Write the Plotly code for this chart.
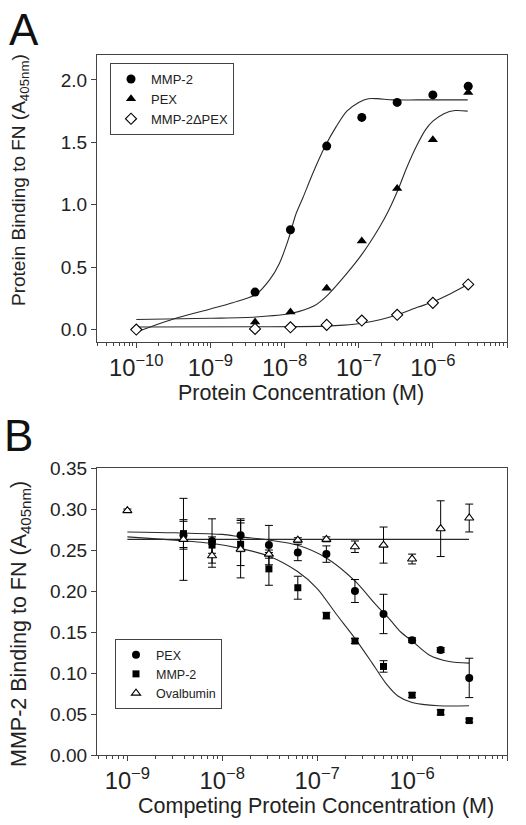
import plotly.graph_objects as go

W, H = 526, 825

# ---------------- Panel A data ----------------
conc_a = [1e-10, 4e-9, 1.2e-8, 3.7e-8, 1.1e-7, 3.3e-7, 1e-6, 3e-6]
mmp2_a = [None, 0.30, 0.80, 1.47, 1.70, 1.82, 1.88, 1.95]
pex_a = [None, 0.06, 0.14, 0.33, 0.71, 1.13, 1.52, 1.90]
dpex_a = [0.0, 0.005, 0.018, 0.037, 0.072, 0.118, 0.214, 0.361]

# fitted curves (log10 concentration, value)
fit_mmp2_a_logx = [-10.0, -9.5, -9.0, -8.7, -8.39, -8.2, -8.07, -7.95, -7.85, -7.75, -7.62, -7.46, -7.30, -7.16, -7.0, -6.87, -6.75, -6.54, -6.2, -5.53]
fit_mmp2_a_y = [-0.02, 0.085, 0.165, 0.215, 0.28, 0.40, 0.53, 0.72, 0.92, 1.06, 1.25, 1.46, 1.63, 1.75, 1.82, 1.85, 1.85, 1.84, 1.84, 1.84]
fit_pex_a_logx = [-10.0, -9.0, -8.39, -7.905, -7.6, -7.43, -7.16, -6.96, -6.72, -6.6, -6.47, -6.35, -6.22, -6.1, -6.0, -5.85, -5.7, -5.53]
fit_pex_a_y = [0.08, 0.09, 0.10, 0.13, 0.19, 0.27, 0.45, 0.60, 0.82, 0.95, 1.12, 1.30, 1.47, 1.60, 1.67, 1.73, 1.755, 1.75]
fit_dpex_a_logx = [-10.0, -8.4, -7.43, -7.2, -6.96, -6.7, -6.47, -6.2, -6.0, -5.75, -5.53]
fit_dpex_a_y = [0.02, 0.022, 0.027, 0.035, 0.05, 0.08, 0.12, 0.18, 0.22, 0.29, 0.36]

# ---------------- Panel B data ----------------
conc_b = [1e-9, 3.9e-9, 7.8e-9, 1.56e-8, 3.1e-8, 6.25e-8, 1.25e-7, 2.5e-7, 5e-7, 1e-6, 2e-6, 4e-6]
pex_b = [None, 0.268, 0.261, 0.268, 0.256, 0.247, 0.245, 0.200, 0.172, 0.140, 0.128, 0.094]
pex_b_err = [None, 0.017, 0.027, 0.020, 0.024, 0.010, 0.010, 0.014, 0.024, 0.003, 0.003, 0.024]
mmp2_b = [None, 0.270, 0.256, 0.257, 0.227, 0.204, 0.170, 0.139, 0.108, 0.073, 0.052, 0.042]
mmp2_b_err = [None, 0.017, 0.010, 0.026, 0.020, 0.014, 0.004, 0.003, 0.007, 0.003, 0.003, 0.002]
ova_b = [0.298, 0.263, 0.243, 0.251, 0.245, 0.262, 0.263, 0.254, 0.256, 0.239, 0.276, 0.289]
ova_b_err = [0.002, 0.050, 0.014, 0.035, 0.005, 0.003, 0.003, 0.007, 0.022, 0.006, 0.034, 0.017]

fit_pex_b_logx = [-9.0, -8.5, -8.0, -7.8, -7.5, -7.21, -6.9, -6.6, -6.38, -6.24, -6.12, -6.0, -5.82, -5.61, -5.4]
fit_pex_b_y = [0.272, 0.271, 0.269, 0.266, 0.262, 0.256, 0.240, 0.212, 0.183, 0.166, 0.150, 0.139, 0.122, 0.114, 0.112]
fit_mmp2_b_logx = [-9.0, -8.5, -8.1, -7.81, -7.52, -7.21, -7.0, -6.8, -6.6, -6.42, -6.28, -6.15, -6.0, -5.72, -5.4]
fit_mmp2_b_y = [0.266, 0.262, 0.258, 0.252, 0.243, 0.224, 0.203, 0.172, 0.142, 0.112, 0.088, 0.072, 0.064, 0.060, 0.060]
fit_ova_b_logx = [-9.0, -5.4]
fit_ova_b_y = [0.263, 0.263]

FONT = "Liberation Sans, Arial, sans-serif"
AX = "#444444"
LINE = "#2a2a2a"

fig = go.Figure()

def curve(logx, y, xa, ya):
    fig.add_trace(go.Scatter(x=[10 ** v for v in logx], y=y, mode="lines",
                             line=dict(color=LINE, width=1.1, shape="spline", smoothing=0.8),
                             showlegend=False, hoverinfo="skip", xaxis=xa, yaxis=ya))

# Panel A curves
curve(fit_mmp2_a_logx, fit_mmp2_a_y, "x", "y")
curve(fit_pex_a_logx, fit_pex_a_y, "x", "y")
curve(fit_dpex_a_logx, fit_dpex_a_y, "x", "y")

# Panel A points
fig.add_trace(go.Scatter(x=conc_a, y=mmp2_a, mode="markers", name="MMP-2",
                         marker=dict(symbol="circle", size=9, color="black"),
                         xaxis="x", yaxis="y", legend="legend"))
fig.add_trace(go.Scatter(x=conc_a, y=pex_a, mode="markers", name="PEX",
                         marker=dict(symbol="triangle-up", size=9, color="black"),
                         xaxis="x", yaxis="y", legend="legend"))
fig.add_trace(go.Scatter(x=conc_a, y=dpex_a, mode="markers", name="MMP-2\u0394PEX",
                         marker=dict(symbol="diamond", size=8.5, color="white",
                                     line=dict(color="black", width=1.1)),
                         xaxis="x", yaxis="y", legend="legend"))

# Panel B curves
curve(fit_ova_b_logx, fit_ova_b_y, "x2", "y2")
curve(fit_pex_b_logx, fit_pex_b_y, "x2", "y2")
curve(fit_mmp2_b_logx, fit_mmp2_b_y, "x2", "y2")

err = dict(type="data", thickness=1, width=4, color="black")
fig.add_trace(go.Scatter(x=conc_b, y=pex_b, mode="markers", name="PEX",
                         error_y=dict(array=pex_b_err, **err),
                         marker=dict(symbol="circle", size=8, color="black"),
                         xaxis="x2", yaxis="y2", legend="legend2"))
fig.add_trace(go.Scatter(x=conc_b, y=mmp2_b, mode="markers", name="MMP-2",
                         error_y=dict(array=mmp2_b_err, **err),
                         marker=dict(symbol="square", size=7, color="black"),
                         xaxis="x2", yaxis="y2", legend="legend2"))
fig.add_trace(go.Scatter(x=conc_b, y=ova_b, mode="markers", name="Ovalbumin",
                         error_y=dict(array=ova_b_err, **err),
                         marker=dict(symbol="triangle-up", size=8, color="white",
                                     line=dict(color="black", width=1.1)),
                         xaxis="x2", yaxis="y2", legend="legend2"))

xdom = [97 / W, 507 / W]
ydom_a = [1 - 342 / H, 1 - 55 / H]
ydom_b = [1 - 755 / H, 1 - 468 / H]
xrange_a = [-10.53, -5.0]
xrange_b = [-9.32, -5.0]

# minor tick positions (1..9 per decade) for the log axes
minor_ticks = [k * 10.0 ** e for e in range(-11, -4) for k in range(1, 10)]

common_axis = dict(showline=True, linecolor=AX, linewidth=1.3, mirror=True,
                   ticks="outside", tickcolor=AX, tickwidth=1, ticklen=5,
                   showgrid=False, zeroline=False, automargin=False,
                   tickfont=dict(family=FONT, size=19, color="#222"))
xlog = dict(type="log", dtick=1, exponentformat="power", showexponent="all")
minor_axis = dict(type="log", tickmode="array", tickvals=minor_ticks, ticks="outside",
                  ticklen=3, tickcolor=AX, tickwidth=1, showticklabels=False,
                  showgrid=False, zeroline=False, showline=False, automargin=False)

def ann(text, x, y, size, angle=0, color="#222"):
    return dict(text=text, x=x / W, y=1 - y / H, xref="paper", yref="paper",
                xanchor="center", yanchor="middle", textangle=angle, showarrow=False,
                font=dict(family=FONT, size=size, color=color))

fig.update_layout(
    width=W, height=H, margin=dict(l=0, r=0, t=0, b=0, autoexpand=False),
    paper_bgcolor="white", plot_bgcolor="white",
    font=dict(family=FONT, color="#222"),
    xaxis=dict(domain=xdom, anchor="y", range=xrange_a, **xlog, **common_axis),
    yaxis=dict(domain=ydom_a, anchor="x", range=[-0.1, 2.2],
               tickvals=[0, 0.5, 1.0, 1.5, 2.0], tickformat=".1f", **common_axis),
    xaxis2=dict(domain=xdom, anchor="y2", range=xrange_b, **xlog, **common_axis),
    yaxis2=dict(domain=ydom_b, anchor="x2", range=[0, 0.35],
                dtick=0.05, tickformat=".2f", **common_axis),
    xaxis3=dict(overlaying="x", anchor="y", range=xrange_a, **minor_axis),
    xaxis4=dict(overlaying="x2", anchor="y2", range=xrange_b, **minor_axis),
    legend=dict(x=110 / W, y=1 - 63 / H, xanchor="left", yanchor="top",
                bordercolor=AX, borderwidth=1, bgcolor="white",
                font=dict(family=FONT, size=13, color="#222"), itemwidth=30),
    legend2=dict(x=115 / W, y=1 - 639 / H, xanchor="left", yanchor="top",
                 bordercolor=AX, borderwidth=1, bgcolor="white",
                 font=dict(family=FONT, size=12.5, color="#222"), itemwidth=30),
    annotations=[
        ann("A", 24, 29, 44, color="#111"),
        ann("B", 18, 436, 44, color="#111"),
        ann("Protein Binding to FN (A<sub>405nm</sub>)", 20, 180, 19, angle=-90),
        ann("MMP-2 Binding to FN (A<sub>405nm</sub>)", 20, 624, 21.5, angle=-90),
        ann("Protein Concentration (M)", 301, 393, 21.5),
        ann("Competing Protein Concentration (M)", 316, 806, 21.5),
    ],
)

# invisible anchor traces so the minor-tick overlay axes are drawn
fig.add_trace(go.Scatter(x=[1e-9], y=[None], xaxis="x3", yaxis="y", showlegend=False, hoverinfo="skip"))
fig.add_trace(go.Scatter(x=[1e-8], y=[None], xaxis="x4", yaxis="y2", showlegend=False, hoverinfo="skip"))

fig.write_html("out.html", config={"displayModeBar": False},
               post_script="document.body.style.margin='0';")
